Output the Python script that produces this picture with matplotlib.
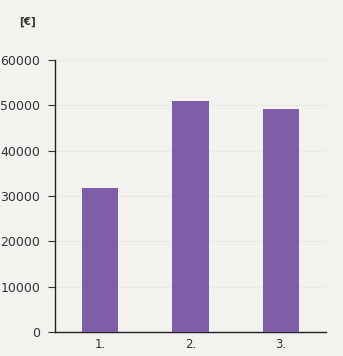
import matplotlib
matplotlib.use("Agg")
import matplotlib.pyplot as plt

categories = ["1.", "2.", "3."]
values = [31800, 51000, 49200]
yticks = [0, 10000, 20000, 30000, 40000, 50000, 60000]

bg = "#f2f2ee"
fig = plt.figure(figsize=(3.43, 3.56), dpi=100, facecolor=bg)
ax = fig.add_axes([55 / 343, 24 / 356, 271 / 343, 272 / 356], facecolor=bg)

x = range(len(categories))
ax.bar(x, values, width=0.4, color="#7f5ea8", zorder=3)
ax.set_xlim(-0.5, 2.5)
ax.set_ylim(0, 60000)
ax.set_yticks(yticks)
ax.set_yticklabels([str(v) for v in yticks], fontsize=9, color="#333333")
ax.set_xticks(list(x))
ax.set_xticklabels(categories, fontsize=8.5, color="#333333")
ax.tick_params(axis="x", length=0, pad=4)
ax.tick_params(axis="y", length=5, width=0.8, pad=5.5, color="#333333")
ax.yaxis.grid(True, color="#e8e8e4", linewidth=0.8, zorder=0)
for side in ["top", "right"]:
    ax.spines[side].set_visible(False)
for side in ["left", "bottom"]:
    ax.spines[side].set_color("#222222")
    ax.spines[side].set_linewidth(1.0)

fig.text(27 / 343, 1 - 22 / 356, "[€]", fontsize=7.5, fontweight="bold",
         color="#333333", ha="center", va="center")

fig.savefig("out.png", dpi=100, facecolor=bg)
